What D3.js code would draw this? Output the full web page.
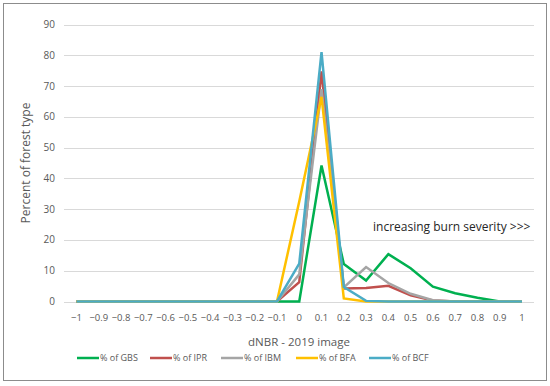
<!DOCTYPE html>
<html>
<head>
<meta charset="utf-8">
<script src="https://cdn.jsdelivr.net/npm/d3@7"></script>
<style>
  body { margin: 0; background: #fff; }
  text { font-family: "Open Sans", "Liberation Sans", sans-serif; }
</style>
</head>
<body>
<div id="chart"></div>
<script>
// dNBR bins
var categories = [-1, -0.9, -0.8, -0.7, -0.6, -0.5, -0.4, -0.3, -0.2, -0.1, 0, 0.1, 0.2, 0.3, 0.4, 0.5, 0.6, 0.7, 0.8, 0.9, 1];
var yTicks = [0, 10, 20, 30, 40, 50, 60, 70, 80, 90];

var gbs = [0, 0, 0, 0, 0, 0, 0, 0, 0, 0, 0, 44.2, 12.2, 6.8, 15.4, 10.8, 4.8, 2.7, 1.2, 0, 0];
var ipr = [0, 0, 0, 0, 0, 0, 0, 0, 0, 0, 6.3, 74.8, 4.2, 4.4, 5.1, 2, 0.3, 0, 0, 0, 0];
var ibm = [0, 0, 0, 0, 0, 0, 0, 0, 0, 0, 8.8, 69, 4.6, 11.2, 6, 2.5, 0.4, 0, 0, 0, 0];
var bfa = [0, 0, 0, 0, 0, 0, 0, 0, 0, 0, 32.5, 66.5, 1, 0, 0, 0, 0, 0, 0, 0, 0];
var bcf = [0, 0, 0, 0, 0, 0, 0, 0, 0, 0, 12.3, 81, 4.7, 0.2, 0, 0, 0, 0, 0, 0, 0];

var seriesNames = ["% of GBS", "% of IPR", "% of IBM", "% of BFA", "% of BCF"];
var seriesColors = ["#00B050", "#C0504D", "#A5A5A5", "#FFC000", "#4BACC6"];
var seriesValues = [gbs, ipr, ibm, bfa, bcf];

var width = 550, height = 386;

var svg = d3.select("#chart").append("svg")
  .attr("width", width)
  .attr("height", height);

// outer frame
svg.append("rect")
  .attr("x", 3.5).attr("y", 3.5)
  .attr("width", width - 7).attr("height", 377)
  .attr("fill", "#fff")
  .attr("stroke", "#8c8c8c")
  .attr("stroke-width", 1);

var x = d3.scalePoint()
  .domain(categories)
  .range([76.5, 522]);

var y = d3.scaleLinear()
  .domain([0, 90])
  .range([301.5, 24.5]);

// grid
svg.append("g")
  .selectAll("line")
  .data(yTicks)
  .enter().append("line")
  .attr("x1", 64).attr("x2", 534)
  .attr("y1", d => Math.round(y(d)) + 0.5)
  .attr("y2", d => Math.round(y(d)) + 0.5)
  .attr("stroke", "#d9d9d9")
  .attr("stroke-width", 1);

// y tick labels
svg.append("g")
  .selectAll("text")
  .data(yTicks)
  .enter().append("text")
  .attr("x", 55)
  .attr("y", d => y(d))
  .attr("dy", "0.35em")
  .attr("text-anchor", "end")
  .style("font-size", "10px")
  .style("fill", "#595959")
  .text(d => d);

// x tick labels
svg.append("g")
  .selectAll("text")
  .data(categories)
  .enter().append("text")
  .attr("x", d => x(d))
  .attr("y", 318)
  .attr("dy", "0.35em")
  .attr("text-anchor", "middle")
  .style("font-size", "9.5px")
  .style("fill", "#595959")
  .text(d => d < 0 ? "\u2212" + Math.abs(d) : d);

// axis titles
svg.append("text")
  .attr("x", 299)
  .attr("y", 342)
  .attr("dy", "0.35em")
  .attr("text-anchor", "middle")
  .style("font-size", "11.5px")
  .style("fill", "#595959")
  .text("dNBR - 2019 image");

svg.append("text")
  .attr("transform", "translate(26,163) rotate(-90)")
  .attr("dy", "0.35em")
  .attr("text-anchor", "middle")
  .style("font-size", "12px")
  .style("fill", "#595959")
  .text("Percent of forest type");

// lines
var line = d3.line()
  .x((d, i) => x(categories[i]))
  .y(d => y(d));

svg.append("g")
  .selectAll("path")
  .data(seriesValues)
  .enter().append("path")
  .attr("d", d => line(d))
  .attr("fill", "none")
  .attr("stroke", (d, i) => seriesColors[i])
  .attr("stroke-width", 2.5)
  .attr("stroke-linejoin", "miter");

// annotation
svg.append("text")
  .attr("x", 373)
  .attr("y", 227)
  .attr("dy", "0.35em")
  .style("font-size", "12px")
  .style("fill", "#262626")
  .text("increasing burn severity >>>");

// legend
var legendX = [77, 150, 221, 296, 369];
var legend = svg.append("g")
  .selectAll("g")
  .data(seriesNames)
  .enter().append("g")
  .attr("transform", (d, i) => "translate(" + legendX[i] + ",358)");

legend.append("line")
  .attr("x1", 0).attr("x2", 22)
  .attr("stroke", (d, i) => seriesColors[i])
  .attr("stroke-width", 2.5);

legend.append("text")
  .attr("x", 23)
  .attr("dy", "0.35em")
  .style("font-size", "9px")
  .style("fill", "#595959")
  .text(d => d);
</script>
</body>
</html>
